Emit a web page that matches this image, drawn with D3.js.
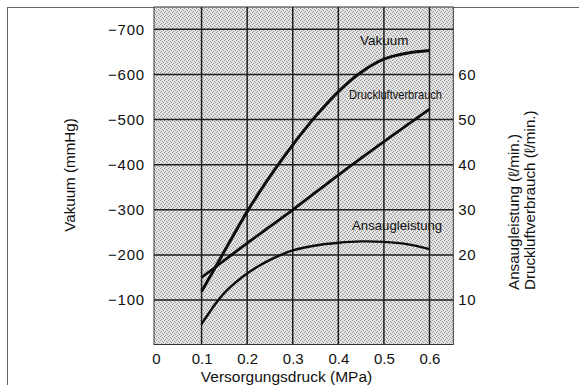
<!DOCTYPE html>
<html><head><meta charset="utf-8">
<script src="https://cdn.jsdelivr.net/npm/d3@7"></script>
<style>
html,body{margin:0;padding:0;background:#fff;}
svg{display:block;font-family:"Liberation Sans",Arial,Helvetica,sans-serif;}
</style></head>
<body><svg id="chart" width="579" height="385"></svg>
<script>
// ---- data ----
const pressure = [0.1,0.15,0.2,0.25,0.3,0.35,0.4,0.45,0.5,0.55,0.6];            // MPa
const vakuum = [-119,-208,-296,-374,-444,-507,-562,-605,-634,-647,-653];         // mmHg
const ansaugleistung = [4.7,11.6,15.9,18.9,21.0,22.1,22.7,23.0,22.9,22.4,21.3];  // l/min
const druckPressure = [0.1,0.2,0.3,0.4,0.5,0.6];
const druckluftverbrauch = [15.0,22.6,30.0,37.7,45.1,52.3];                      // l/min
const xTicks = [0,0.1,0.2,0.3,0.4,0.5,0.6];
const leftTicks = [-700,-600,-500,-400,-300,-200,-100];
const rightTicks = [10,20,30,40,50,60];
const xTitle = "Versorgungsdruck (MPa)";
const yTitle = "Vakuum (mmHg)";
const y2Titles = ["Ansaugleistung (\u2113/min.)","Druckluftverbrauch (\u2113/min.)"];

// ---- layout ----
const svg = d3.select("#chart");
const x = d3.scaleLinear().domain([0,0.6]).range([156,429.5]);
const y = d3.scaleLinear().domain([0,-700]).range([345.2,29.3]);
const y2 = d3.scaleLinear().domain([0,70]).range([345.2,29.3]);
const plot = {x0:154, x1:453.3, y0:7, y1:344.5};

// halftone pattern
const defs = svg.append("defs");
const pat = defs.append("pattern").attr("id","dots").attr("width",4).attr("height",4)
  .attr("patternUnits","userSpaceOnUse");
pat.append("rect").attr("width",4).attr("height",4).attr("fill","#e4e4e4");
[[0,0],[2,1],[1,3],[3,2]].forEach(([a,b])=>pat.append("rect").attr("x",a).attr("y",b)
  .attr("width",1).attr("height",1).attr("fill","#999"));

// outer frame
svg.append("line").attr("x1",7).attr("y1",7.5).attr("x2",579).attr("y2",7.5)
  .attr("stroke","#666").attr("stroke-width",1);
svg.append("line").attr("x1",7.5).attr("y1",7).attr("x2",7.5).attr("y2",385)
  .attr("stroke","#666").attr("stroke-width",1);

// plot background
svg.append("rect").attr("x",plot.x0).attr("y",plot.y0)
  .attr("width",plot.x1-plot.x0).attr("height",plot.y1-plot.y0)
  .attr("fill","url(#dots)").attr("stroke","#333").attr("stroke-width",1);

// grid
const grid = svg.append("g").attr("stroke","#1e1e1e").attr("stroke-width",1.5);
xTicks.filter(d=>d>0).forEach(d=>grid.append("line")
  .attr("x1",x(d)).attr("x2",x(d)).attr("y1",plot.y0).attr("y2",plot.y1));
leftTicks.forEach(d=>grid.append("line")
  .attr("x1",plot.x0).attr("x2",plot.x1).attr("y1",y(d)).attr("y2",y(d)));

// axes labels (via d3 axes, domain/ticks hidden)
const axL = svg.append("g").attr("transform",`translate(${plot.x0},0)`)
  .call(d3.axisLeft(y).tickValues(leftTicks).tickSize(0).tickPadding(9)
    .tickFormat(d=>"\u2212"+Math.abs(d)));
const axR = svg.append("g").attr("transform",`translate(${plot.x1},0)`)
  .call(d3.axisRight(y2).tickValues(rightTicks).tickSize(0).tickPadding(5)
    .tickFormat(d=>d));
const axB = svg.append("g").attr("transform",`translate(0,${plot.y1})`)
  .call(d3.axisBottom(x).tickValues(xTicks).tickSize(0).tickPadding(9)
    .tickFormat(d=>d===0?"0":d3.format(".1f")(d)));
[axL,axR,axB].forEach(a=>{
  a.select(".domain").remove();
  a.selectAll("text").attr("font-family","Liberation Sans, Arial, sans-serif")
    .attr("font-size",15).attr("fill","#111");
});
axL.selectAll("text").attr("letter-spacing","0.8px");
axR.selectAll("text").attr("letter-spacing","0.6px");

// curves
const curve = d3.curveCatmullRom.alpha(0.5);
const lineV = d3.line().x((d,i)=>x(pressure[i])).y(d=>y(d)).curve(curve);
const lineA = d3.line().x((d,i)=>x(pressure[i])).y(d=>y2(d)).curve(curve);
const lineD = d3.line().x((d,i)=>x(druckPressure[i])).y(d=>y2(d)).curve(curve);
svg.append("path").attr("d",lineV(vakuum)).attr("fill","none")
  .attr("stroke","#0d0d0d").attr("stroke-width",3);
svg.append("path").attr("d",lineD(druckluftverbrauch)).attr("fill","none")
  .attr("stroke","#0d0d0d").attr("stroke-width",2.8);
svg.append("path").attr("d",lineA(ansaugleistung)).attr("fill","none")
  .attr("stroke","#0d0d0d").attr("stroke-width",2.4);

// curve labels
svg.append("text").attr("x",360).attr("y",45).attr("font-size",13.5).attr("fill","#111")
  .text("Vakuum");
svg.append("text").attr("x",349).attr("y",99).attr("font-size",13.5).attr("fill","#111")
  .attr("textLength",93).attr("lengthAdjust","spacingAndGlyphs").text("Druckluftverbrauch");
svg.append("text").attr("x",352).attr("y",229.5).attr("font-size",13.2).attr("fill","#111")
  .text("Ansaugleistung");

// axis titles
svg.append("text").attr("x",286.5).attr("y",382).attr("text-anchor","middle")
  .attr("font-size",15.5).attr("fill","#111").text(xTitle);
svg.append("text").attr("transform","translate(75,175) rotate(-90)").attr("text-anchor","middle")
  .attr("font-size",15.2).attr("fill","#111").text(yTitle);
svg.append("text").attr("transform","translate(518.5,290) rotate(-90)").attr("text-anchor","start")
  .attr("font-size",15.2).attr("fill","#111").text(y2Titles[0]);
svg.append("text").attr("transform","translate(534.5,290) rotate(-90)").attr("text-anchor","start")
  .attr("font-size",15.2).attr("fill","#111").text(y2Titles[1]);
</script></body></html>
